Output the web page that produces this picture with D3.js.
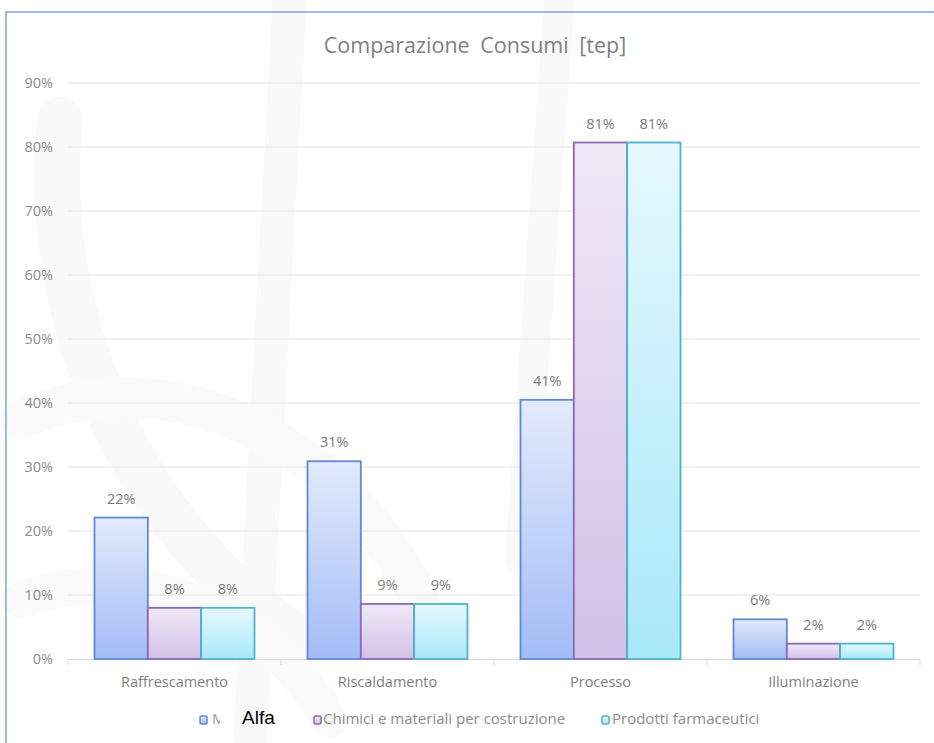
<!DOCTYPE html>
<html><head><meta charset="utf-8">
<script src="https://cdn.jsdelivr.net/npm/d3@7"></script>
<style>html,body{margin:0;padding:0;background:#fff;}svg{display:block;}</style>
</head><body>
<svg id="c" width="934" height="743"></svg>
<script>
const categories = ["Raffrescamento", "Riscaldamento", "Processo", "Illuminazione"];
const seriesNames = ["Alfa", "Chimici e materiali per costruzione", "Prodotti farmaceutici"];
const serieAlfa = [22.1, 30.9, 40.5, 6.2];
const serieChimici = [8.0, 8.6, 80.7, 2.4];
const serieFarmaceutici = [8.0, 8.6, 80.7, 2.4];
const yTicks = [0, 10, 20, 30, 40, 50, 60, 70, 80, 90];
const title = "Comparazione Consumi [tep]";

const seriesValues = [serieAlfa, serieChimici, serieFarmaceutici];
const colors = [
  {top:"#e3eafc", bot:"#a3bcf6", stroke:"#5f89d4"},
  {top:"#efe9f7", bot:"#d3c0e8", stroke:"#8a69b5"},
  {top:"#e6f8fe", bot:"#a8e8fa", stroke:"#4db4cc"}
];
const FONT = "Open Sans, sans-serif";

const svg = d3.select("#c");
const defs = svg.append("defs");
colors.forEach((c,i)=>{
  const g = defs.append("linearGradient").attr("id","g"+i).attr("x1",0).attr("y1",0).attr("x2",0).attr("y2",1);
  g.append("stop").attr("offset","0%").attr("stop-color",c.top);
  g.append("stop").attr("offset","100%").attr("stop-color",c.bot);
});
defs.append("clipPath").attr("id","mclip").append("rect").attr("x",211).attr("y",700).attr("width",9).attr("height",40);

// faint watermark
const wm = svg.append("g").attr("fill","none").attr("stroke-linecap","round");
wm.append("path").attr("d","M60 120 C 40 300, 120 520, 300 640").attr("stroke-width",46).attr("stroke","#f9f9f9");
wm.append("path").attr("d","M290 -10 L 250 743").attr("stroke-width",34).attr("stroke","#f9f9f9");
wm.append("path").attr("d","M560 -10 L 520 560").attr("stroke-width",30).attr("stroke","#f9f9f9");
wm.append("path").attr("d","M20 420 C 150 360, 330 420, 420 600").attr("stroke-width",40).attr("stroke","#fafafa");
wm.append("path").attr("d","M20 600 C 130 560, 260 600, 330 720").attr("stroke-width",36).attr("stroke","#fafafa");

// frame
svg.append("path").attr("d","M6 743 L6 12 L934 12").attr("fill","none").attr("stroke","#7ea3e0").attr("stroke-width",1.5);

const x0 = 68, x1 = 920, yTop = 83, yBot = 659;
const x = d3.scaleBand().domain(categories).range([x0, x1]).paddingInner(0).paddingOuter(0);
const y = d3.scaleLinear().domain([0, 90]).range([yBot, yTop]);
const inner = d3.scaleBand().domain(d3.range(3)).range([0, 160]);
const groupOffset = (x.bandwidth() - 160) / 2;

// gridlines
svg.append("g").selectAll("line").data(yTicks.filter(t=>t>0)).join("line")
  .attr("x1", x0).attr("x2", x1).attr("y1", d=>y(d)).attr("y2", d=>y(d))
  .attr("stroke","#e2e2e2").attr("stroke-width",1);

// y axis labels
const yAxis = d3.axisLeft(y).tickValues(yTicks).tickFormat(d=>d+"%").tickSize(0).tickPadding(0);
const ya = svg.append("g").attr("transform","translate(53,0)").call(yAxis);
ya.select(".domain").remove();
ya.selectAll("text").attr("fill","#8c8c8c").attr("font-family",FONT).attr("font-size",14.5);

// x axis
const xAxis = d3.axisBottom(x).tickSize(0).tickPadding(18);
const xa = svg.append("g").attr("transform",`translate(0,${yBot})`).call(xAxis);
xa.select(".domain").attr("stroke","#d9d9d9");
xa.selectAll("text").attr("fill","#7f7f7f").attr("font-family",FONT).attr("font-size",14.5);
// category boundary ticks
svg.append("g").selectAll("line").data(categories.map(c=>x(c)).concat([x1])).join("line")
  .attr("x1",d=>d).attr("x2",d=>d).attr("y1",yBot).attr("y2",yBot+6).attr("stroke","#d9d9d9");

// bars
seriesValues.forEach((vals,si)=>{
  const g = svg.append("g");
  g.selectAll("rect").data(vals).join("rect")
    .attr("x",(d,i)=>x(categories[i]) + groupOffset + inner(si))
    .attr("y",d=>y(d))
    .attr("width",inner.bandwidth())
    .attr("height",d=>yBot - y(d))
    .attr("fill","url(#g"+si+")")
    .attr("stroke",colors[si].stroke).attr("stroke-width",1.8);
  g.selectAll("text").data(vals).join("text")
    .attr("x",(d,i)=>x(categories[i]) + groupOffset + inner(si) + inner.bandwidth()/2)
    .attr("y",d=>y(d) - 14)
    .attr("text-anchor","middle")
    .attr("fill","#7a7a7a").attr("font-family",FONT).attr("font-size",14.5)
    .text(d=>Math.round(d)+"%");
});

// title
svg.append("text").attr("x",475).attr("y",53).attr("text-anchor","middle")
  .attr("fill","#7f7f7f").attr("font-family",FONT).attr("font-size",21.5)
  .attr("word-spacing",5).text(title);

// legend
const legendPos = [{sx:200, tx:242}, {sx:314, tx:323}, {sx:602, tx:612}];
seriesNames.forEach((n,i)=>{
  const p = legendPos[i];
  svg.append("rect").attr("x",p.sx).attr("y",716).attr("width",7).attr("height",8).attr("rx",1.5)
    .attr("fill","url(#g"+i+")").attr("stroke",colors[i].stroke).attr("stroke-width",1.5);
  if(i===0){
    svg.append("text").attr("x",212).attr("y",724).attr("fill","#9a9a9a")
      .attr("clip-path","url(#mclip)")
      .attr("font-family",FONT).attr("font-size",15).text("M");
    svg.append("text").attr("x",p.tx).attr("y",724).attr("fill","#000")
      .attr("font-family","Liberation Sans, Arial, sans-serif").attr("font-size",19).text(n);
  } else {
    svg.append("text").attr("x",p.tx).attr("y",724).attr("fill","#8c8c8c")
      .attr("font-family",FONT).attr("font-size",15).text(n);
  }
});
</script>
</body></html>
